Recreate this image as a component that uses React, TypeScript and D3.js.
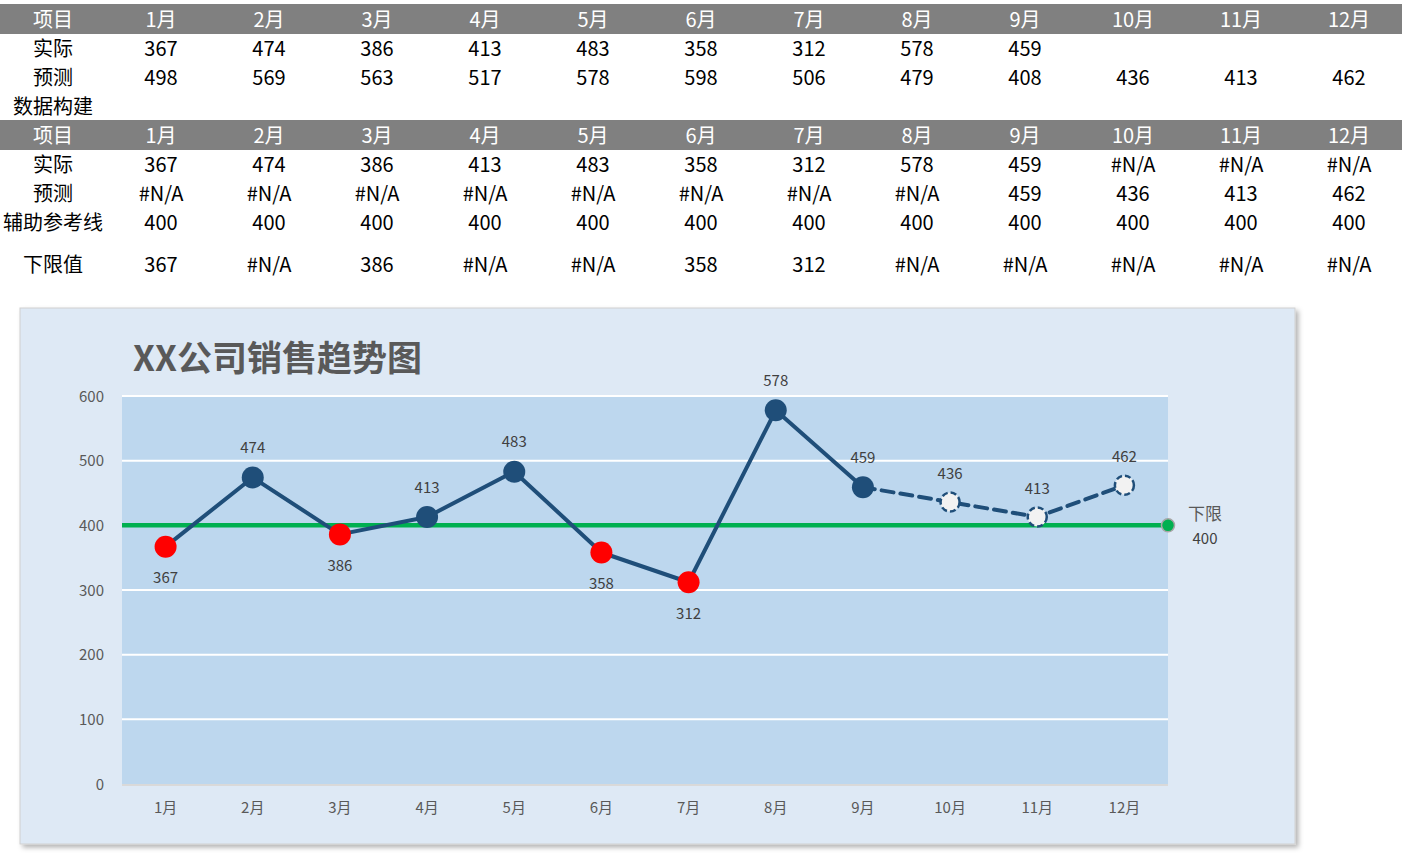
import { useEffect, useRef } from "react";
import * as d3 from "d3";

const months = ["1月", "2月", "3月", "4月", "5月", "6月", "7月", "8月", "9月", "10月", "11月", "12月"];
const actual: (number | null)[] = [367, 474, 386, 413, 483, 358, 312, 578, 459, null, null, null];
const forecastRaw = [498, 569, 563, 517, 578, 598, 506, 479, 408, 436, 413, 462];
const forecast: (number | null)[] = [null, null, null, null, null, null, null, null, 459, 436, 413, 462];
const refLine = [400, 400, 400, 400, 400, 400, 400, 400, 400, 400, 400, 400];
const lowerLimit: (number | null)[] = [367, null, 386, null, null, 358, 312, null, null, null, null, null];
const yTicks = [0, 100, 200, 300, 400, 500, 600];

const FONT = "'Noto Sans CJK SC', 'Noto Sans', sans-serif";

export default function App() {
  const svgRef = useRef<SVGSVGElement | null>(null);
  const W = 1402;
  const H = 855;

  useEffect(() => {
    if (!svgRef.current) return;
    const svg = d3.select(svgRef.current);
    svg.selectAll("*").remove();

    // 阴影
    const defs = svg.append("defs");
    const f = defs.append("filter").attr("id", "shadow").attr("x", "-5%").attr("y", "-5%").attr("width", "110%").attr("height", "110%");
    f.append("feDropShadow").attr("dx", 3).attr("dy", 3).attr("stdDeviation", 2.5).attr("flood-color", "#000").attr("flood-opacity", 0.3);

    // ---------- 表格 ----------
    const colX = d3.scaleLinear().domain([0, 11]).range([161, 1349]);
    const labelX = 53;
    const tbl = svg.append("g").attr("font-family", FONT).attr("font-size", 20);

    const fmt = (v: number | null) => (v == null ? "#N/A" : String(v));

    const drawHeader = (y: number) => {
      tbl.append("rect").attr("x", 0).attr("y", y - 15).attr("width", W).attr("height", 30).attr("fill", "#808080");
      tbl.append("text").attr("x", labelX).attr("y", y).attr("dy", "0.38em").attr("text-anchor", "middle").attr("fill", "#fff").text("项目");
      months.forEach((m, i) => {
        tbl.append("text").attr("x", colX(i)).attr("y", y).attr("dy", "0.38em").attr("text-anchor", "middle").attr("fill", "#fff").text(m);
      });
    };
    const drawRow = (y: number, label: string, vals: string[]) => {
      tbl.append("text").attr("x", labelX).attr("y", y).attr("dy", "0.38em").attr("text-anchor", "middle").attr("fill", "#000").text(label);
      vals.forEach((v, i) => {
        tbl.append("text").attr("x", colX(i)).attr("y", y).attr("dy", "0.38em").attr("text-anchor", "middle").attr("fill", "#000").text(v);
      });
    };

    drawHeader(19);
    drawRow(48, "实际", actual.map((v) => (v == null ? "" : String(v))));
    drawRow(77, "预测", forecastRaw.map(String));
    tbl.append("text").attr("x", 13).attr("y", 106).attr("dy", "0.38em").attr("fill", "#000").text("数据构建");
    drawHeader(135);
    drawRow(164, "实际", actual.map(fmt));
    drawRow(193, "预测", forecast.map(fmt));
    drawRow(222, "辅助参考线", refLine.map(String));
    drawRow(264, "下限值", lowerLimit.map(fmt));

    // ---------- 图表 ----------
    const box = { x: 20, y: 308, w: 1275, h: 536 };
    svg.append("rect")
      .attr("x", box.x).attr("y", box.y).attr("width", box.w).attr("height", box.h)
      .attr("fill", "#dee9f5").attr("stroke", "#d0d0d0").attr("stroke-width", 1)
      .attr("filter", "url(#shadow)");

    const plot = { left: 122, right: 1168, top: 396, bottom: 784 };
    const x = d3.scaleBand().domain(months).range([plot.left, plot.right]).padding(0);
    const y = d3.scaleLinear().domain([0, 600]).range([plot.bottom, plot.top]);
    const cx = (i: number) => (x(months[i]) as number) + x.bandwidth() / 2;

    const chart = svg.append("g").attr("font-family", FONT);

    chart.append("text")
      .attr("x", 133).attr("y", 358).attr("dy", "0.36em")
      .attr("font-size", 35).attr("font-weight", "bold").attr("fill", "#595959")
      .text("XX公司销售趋势图");

    chart.append("rect")
      .attr("x", plot.left).attr("y", plot.top)
      .attr("width", plot.right - plot.left).attr("height", plot.bottom - plot.top)
      .attr("fill", "#bdd7ee");

    // 网格线
    chart.append("g").selectAll("line").data(yTicks.filter((t) => t > 0)).enter().append("line")
      .attr("x1", plot.left).attr("x2", plot.right)
      .attr("y1", (d) => y(d)).attr("y2", (d) => y(d))
      .attr("stroke", "#fff").attr("stroke-width", 2);
    chart.append("line")
      .attr("x1", plot.left).attr("x2", plot.right)
      .attr("y1", y(0) + 1).attr("y2", y(0) + 1)
      .attr("stroke", "#d9d9d9").attr("stroke-width", 2);

    // y 轴标签
    chart.append("g").selectAll("text").data(yTicks).enter().append("text")
      .attr("x", 104).attr("y", (d) => y(d)).attr("dy", "0.38em")
      .attr("text-anchor", "end").attr("font-size", 15).attr("fill", "#595959")
      .text((d) => d);

    // x 轴标签
    chart.append("g").selectAll("text").data(months).enter().append("text")
      .attr("x", (_d, i) => cx(i)).attr("y", 807).attr("dy", "0.38em")
      .attr("text-anchor", "middle").attr("font-size", 15).attr("fill", "#595959")
      .text((d) => d);

    // 参考线
    chart.append("line")
      .attr("x1", plot.left).attr("x2", plot.right)
      .attr("y1", y(refLine[0])).attr("y2", y(refLine[0]))
      .attr("stroke", "#00b050").attr("stroke-width", 4.5);
    chart.append("circle")
      .attr("cx", plot.right).attr("cy", y(refLine[11])).attr("r", 6.5)
      .attr("fill", "#00b050").attr("stroke", "#a6a6a6").attr("stroke-width", 1.5);
    chart.append("text").attr("x", 1205).attr("y", 514).attr("dy", "0.38em")
      .attr("text-anchor", "middle").attr("font-size", 17).attr("fill", "#595959").text("下限");
    chart.append("text").attr("x", 1205).attr("y", 538).attr("dy", "0.38em")
      .attr("text-anchor", "middle").attr("font-size", 15).attr("fill", "#404040").text(refLine[11]);

    // 预测 虚线
    const line = d3.line<number | null>()
      .defined((d) => d != null)
      .x((_d, i) => cx(i))
      .y((d) => y(d as number));

    chart.append("path").datum(forecast).attr("d", line)
      .attr("fill", "none").attr("stroke", "#1f4e79").attr("stroke-width", 4)
      .attr("stroke-dasharray", "12,7").attr("stroke-linecap", "round");

    chart.append("path").datum(actual).attr("d", line)
      .attr("fill", "none").attr("stroke", "#1f4e79").attr("stroke-width", 4)
      .attr("stroke-linejoin", "round");

    // 预测标记
    forecast.forEach((v, i) => {
      if (v == null || actual[i] != null) return;
      chart.append("circle").attr("cx", cx(i)).attr("cy", y(v)).attr("r", 9.5)
        .attr("fill", "#f2f2f2").attr("stroke", "#1f4e79").attr("stroke-width", 2.5)
        .attr("stroke-dasharray", "6,3");
      chart.append("text").attr("x", cx(i)).attr("y", y(v) - 29).attr("dy", "0.38em")
        .attr("text-anchor", "middle").attr("font-size", 15).attr("fill", "#404040").text(v);
    });

    // 实际标记
    actual.forEach((v, i) => {
      if (v == null) return;
      const low = lowerLimit[i] != null;
      chart.append("circle").attr("cx", cx(i)).attr("cy", y(v)).attr("r", 11)
        .attr("fill", low ? "#ff0000" : "#1f4e79");
      chart.append("text").attr("x", cx(i)).attr("y", low ? y(v) + 31 : y(v) - 30).attr("dy", "0.38em")
        .attr("text-anchor", "middle").attr("font-size", 15).attr("fill", "#404040").text(v);
    });
  }, []);

  return (
    <svg
      ref={svgRef}
      width={W}
      height={H}
      style={{ position: "absolute", left: 0, top: 0, background: "#fff" }}
    />
  );
}
